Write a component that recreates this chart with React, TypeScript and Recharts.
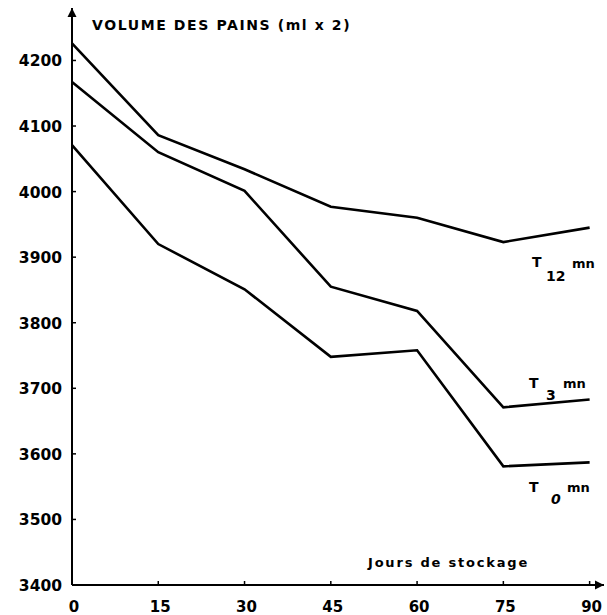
import React from 'react';
import { LineChart, Line, XAxis, YAxis, ReferenceDot } from 'recharts';

const days = [0, 15, 30, 45, 60, 75, 90];
const t0 = [4071, 3920, 3851, 3748, 3758, 3581, 3587];
const t3 = [4167, 4060, 4001, 3855, 3818, 3671, 3683];
const t12 = [4226, 4086, 4034, 3977, 3960, 3923, 3945];
const yTicks = [3400, 3500, 3600, 3700, 3800, 3900, 4000, 4100, 4200];
const xTicks = [0, 15, 30, 45, 60, 75, 90];

const data = days.map((d, i) => ({ day: d, t0: t0[i], t3: t3[i], t12: t12[i] }));

const FONT = '"DejaVu Sans", "Liberation Sans", sans-serif';

const YTick = (props: any) => {
  const { x, y, payload } = props;
  return (
    <g>
      <line x1={x} y1={y} x2={x + 4} y2={y} stroke="#000" strokeWidth={1.5} />
      <text x={x - 10} y={y + 6} textAnchor="end" fontFamily={FONT} fontWeight="bold" fontSize={15.5} fill="#000">
        {payload.value}
      </text>
    </g>
  );
};

const XTick = (props: any) => {
  const { x, y, payload } = props;
  return (
    <g>
      <line x1={x} y1={y} x2={x} y2={y - 4} stroke="#000" strokeWidth={1.5} />
      <text x={x + 2} y={y + 27} textAnchor="middle" fontFamily={FONT} fontWeight="bold" fontSize={15} fill="#000">
        {payload.value}
      </text>
    </g>
  );
};

const UpArrow = (props: any) => {
  const { cx, cy } = props;
  return <path d={`M${cx},${cy} L${cx - 4.5},${cy + 9} L${cx + 4.5},${cy + 9} Z`} fill="#000" />;
};
const RightArrow = (props: any) => {
  const { cx, cy } = props;
  return <path d={`M${cx},${cy} L${cx - 9},${cy - 4.5} L${cx - 9},${cy + 4.5} Z`} fill="#000" />;
};

export default function App() {
  return (
    <div style={{ position: 'absolute', left: 0, top: 0, width: 607, height: 615, background: '#fff' }}>
      <LineChart width={607} height={615} data={data} margin={{ top: 8, right: 3, bottom: 0, left: 0 }}>
        <XAxis
          dataKey="day"
          type="number"
          domain={[0, 92.5]}
          ticks={xTicks}
          height={30}
          tickSize={0}
          tickMargin={0}
          tickLine={false}
          axisLine={{ stroke: '#000', strokeWidth: 2 }}
          tick={<XTick />}
          interval={0}
        />
        <YAxis
          type="number"
          domain={[3400, 4280]}
          ticks={yTicks}
          width={72}
          tickSize={0}
          tickMargin={0}
          tickLine={false}
          axisLine={{ stroke: '#000', strokeWidth: 2 }}
          tick={<YTick />}
          interval={0}
        />
        <Line dataKey="t12" stroke="#000" strokeWidth={2.6} dot={false} isAnimationActive={false} type="linear" />
        <Line dataKey="t3" stroke="#000" strokeWidth={2.6} dot={false} isAnimationActive={false} type="linear" />
        <Line dataKey="t0" stroke="#000" strokeWidth={2.6} dot={false} isAnimationActive={false} type="linear" />
        <ReferenceDot x={0} y={4280} r={0} ifOverflow="visible" shape={<UpArrow />} />
        <ReferenceDot x={92.5} y={3400} r={0} ifOverflow="visible" shape={<RightArrow />} />
      </LineChart>
      <svg width={607} height={615} style={{ position: 'absolute', left: 0, top: 0, pointerEvents: 'none' }}>
        <g fontFamily={FONT} fontWeight="bold" fill="#000">
          <text x={92} y={30} fontSize={14} letterSpacing={1.6}>VOLUME DES PAINS (ml x 2)</text>
          <text x={368} y={567} fontSize={13} letterSpacing={1.8}>Jours de stockage</text>
          <text x={532} y={267} fontSize={14}>T</text>
          <text x={546} y={281} fontSize={14}>12</text>
          <text x={572} y={268} fontSize={13}>mn</text>
          <text x={529} y={388} fontSize={14}>T</text>
          <text x={546} y={400} fontSize={14}>3</text>
          <text x={563} y={388} fontSize={13}>mn</text>
          <text x={529} y={492} fontSize={14}>T</text>
          <text x={551} y={504} fontSize={14} fontStyle="italic">0</text>
          <text x={567} y={492} fontSize={13}>mn</text>
        </g>
      </svg>
    </div>
  );
}
